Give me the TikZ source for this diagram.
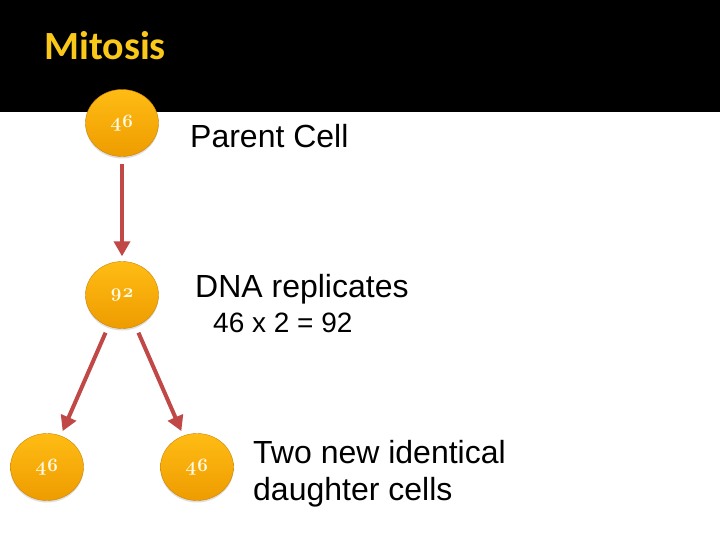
\documentclass[tikz,border=0pt]{standalone}
\usepackage{fontspec}
\setmainfont{Liberation Sans}
\newfontfamily\titlefont{Carlito}
\newfontfamily\numfont{Latin Modern Roman}
\usetikzlibrary{arrows.meta,shapes.geometric,shadows}

\definecolor{titlegold}{RGB}{250,200,25}
\definecolor{celltop}{RGB}{255,188,20}
\definecolor{cellbot}{RGB}{238,156,0}
\definecolor{cellrim}{RGB}{205,130,0}
\definecolor{numcream}{RGB}{255,250,230}
\definecolor{arrowred}{RGB}{192,72,70}

\begin{document}
\begin{tikzpicture}[grow = down, level distance = 172pt,
    level 2/.style = {sibling distance = 150pt},
    cell/.style = {shape = ellipse, minimum width = 73pt, minimum height = 67pt,
        draw = cellrim, line width = 0.4pt, top color = celltop, bottom color = cellbot,
        drop shadow = {opacity = 0.25, shadow xshift = 0pt, shadow yshift = -2pt},
        text = numcream, font = \numfont\bfseries\fontsize{19}{19}\selectfont},
    edge from parent/.style = {draw = arrowred, line width = 4pt,
        -{Triangle[length = 15pt, width = 16pt]}, shorten <= 7pt, shorten >= 5pt},
    caption/.style = {anchor = base west, inner sep = 0pt, font = \fontsize{32}{37}\selectfont}]
    \useasboundingbox (0,0) rectangle (720pt,-540pt);
    \fill[white] (0,0) rectangle (720pt,-540pt);
    \fill[black] (0,0) rectangle (720pt,-112pt);
    \node[anchor = base west, inner sep = 0pt, text = titlegold,
        font = \titlefont\bfseries\fontsize{40}{40}\selectfont] (title) at (44pt,-60pt) {Mitosis};

    % cell tree
    \node[cell] (parent) at (122pt,-123pt) {\oldstylenums{46}}
        child{ node[cell] (dup) {\oldstylenums{92}}
            child{ node[cell] (left) {\oldstylenums{46}} }
            child{ node[cell] (right) {\oldstylenums{46}} } };

    \node[caption] (parentlbl) at (190pt,-148pt) {Parent Cell};
    \node[caption] (dnalbl) at (195pt,-297pt) {DNA replicates};
    \node[caption, font = \fontsize{28}{34}\selectfont] (sumlbl) at (213pt,-332pt) {46 x 2 = 92};
    \node[caption, align = left] (daughterlbl) at (253pt,-500pt) {Two new identical\\daughter cells};
\end{tikzpicture}
\end{document}
